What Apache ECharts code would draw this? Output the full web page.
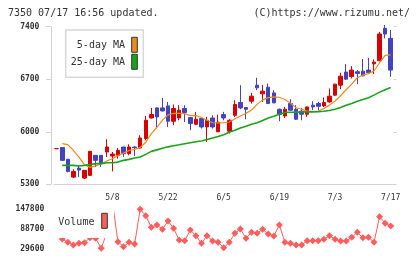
<!DOCTYPE html>
<html>
<head>
<meta charset="utf-8">
<title>7350</title>
<script src="https://cdn.jsdelivr.net/npm/echarts@6/dist/echarts.min.js"></script>
<style>
	html, body { margin: 0; padding: 0; background: #fff; }
	#chart { width: 420px; height: 259px; }
</style>
</head>
<body>
<div id="chart"></div>
<script>
// trading days 2025/04/21 - 07/17
var dates = ['4/21','4/22','4/23','4/24','4/25','4/28','4/30','5/1','5/2','5/7',
	'5/8','5/9','5/12','5/13','5/14','5/15','5/16','5/19','5/20','5/21',
	'5/22','5/23','5/26','5/27','5/28','5/29','5/30','6/2','6/3','6/4',
	'6/5','6/6','6/9','6/10','6/11','6/12','6/13','6/16','6/17','6/18',
	'6/19','6/20','6/23','6/24','6/25','6/26','6/27','6/30','7/1','7/2',
	'7/3','7/4','7/7','7/8','7/9','7/10','7/11','7/14','7/15','7/16','7/17'];

var opens = [5775,5789,5633,5396,5516,5383,5419,5686,5686,5730,
	5677,5686,5797,5708,5797,5784,5909,6184,6318,6318,
	6345,6140,6184,6310,6189,6100,6176,6064,6184,6000,
	6229,6007,6220,6390,6323,6407,6621,6505,6594,6518,
	6300,6211,6376,6300,6274,6234,6354,6376,6345,6398,
	6488,6621,6795,6736,6800,6808,6822,6905,6946,7378,7245];
var closes = [5775,5619,5472,5472,5489,5486,5739,5619,5575,5797,
	5703,5753,5708,5797,5789,5917,6153,6230,6198,6278,
	6140,6310,6287,6256,6109,6167,6064,6153,6064,6127,
	6184,6153,6363,6318,6300,6474,6585,6541,6376,6385,
	6229,6300,6287,6167,6234,6331,6331,6340,6390,6474,
	6634,6741,6701,6822,6777,6745,6790,6928,7303,7302,6822];
var lows = [5775,5610,5459,5383,5396,5370,5410,5530,5530,5663,
	5472,5642,5663,5686,5677,5775,5886,6176,6051,6270,
	6064,6087,6153,6131,6020,6087,6043,5864,6043,6000,
	6153,5976,6198,6300,6167,6376,6554,6398,6370,6380,
	6140,6184,6280,6160,6153,6198,6287,6287,6331,6385,
	6480,6568,6690,6710,6634,6740,6785,6768,6940,7245,6732];
var highs = [5775,5795,5640,5499,5552,5490,5745,5690,5690,5900,
	5730,5784,5800,5833,5806,5953,6211,6318,6325,6451,
	6398,6363,6354,6354,6198,6265,6198,6198,6220,6229,
	6265,6167,6420,6621,6331,6518,6719,6621,6643,6554,
	6309,6331,6434,6354,6318,6331,6407,6398,6457,6577,
	6640,6785,6902,6875,6822,6969,6986,6964,7330,7422,7356];

var ma5 = [null,5842,5829,5753,5663,5560,5525,5545,5570,5610,
	5640,5680,5715,5750,5765,5790,5860,5975,6057,6155,
	6225,6245,6245,6242,6215,6215,6190,6153,6120,6118,
	6120,6130,6170,6210,6245,6290,6365,6425,6455,6465,
	6460,6430,6380,6320,6300,6275,6270,6275,6310,6355,
	6410,6480,6560,6635,6720,6755,6775,6810,6920,7018,7025];
var ma25 = [null,5552,5552,5552,5543,5552,5562,5575,5575,5588,
	5588,5596,5619,5632,5650,5663,5699,5739,5759,5779,
	5799,5813,5826,5840,5853,5866,5877,5897,5917,5936,
	5960,5993,6020,6051,6073,6100,6120,6150,6184,6207,
	6234,6256,6260,6260,6263,6265,6265,6267,6274,6283,
	6300,6323,6354,6377,6407,6430,6454,6488,6528,6561,6591];

var volume = [null,59200,49400,41400,46400,48200,63000,61200,31700,77000,
	170000,51200,36400,49400,44400,147000,128000,93700,100500,87800,
	112300,90700,56200,54100,85700,68900,46400,68900,53200,49400,
	33400,49400,76000,88700,61200,78900,76000,87800,73900,68000,
	100500,49400,46400,41400,41400,54100,54100,54100,58300,68900,
	58300,53200,53200,64200,78900,63000,64200,49400,125000,105500,97600];

var priceTicks = { min: 5300, max: 7400, interval: 700 };
var volTicks = { min: 29600, max: 147800, interval: 59100 };

var mono = 'DejaVu Sans Mono';
var upColor = '#d60000';
var downColor = '#4343c2';
var ma5Color = '#f08a1a';
var ma25Color = '#18a418';
var volColor = '#ff5c5c';
var axisColor = '#d3d3d3';

// first trading day of each week gets a tick
function isWeekStart(index) {
	if (index === 0) return true;
	let p = dates[index - 1].split('/');
	let c = dates[index].split('/');
	let prev = new Date(2025, p[0] - 1, p[1]);
	let cur = new Date(2025, c[0] - 1, c[1]);
	return cur.getDay() <= prev.getDay() || (cur - prev) > 6 * 86400000;
}

function plainNumber(value) {
	return String(value);
}

function drawChart() {
	var chart = echarts.init(document.getElementById('chart'), null, { renderer: 'canvas' });

	var candles = dates.map(function(d, i) {
		return [opens[i], closes[i], lows[i], highs[i]];
	});

	var option = {
		animation: false,
		backgroundColor: '#fff',
		title: [
			{
				text: '7350 07/17 16:56 updated.',
				left: 8,
				top: 8,
				padding: 0,
				textStyle: { fontFamily: mono, fontSize: 10, fontWeight: 'normal', color: '#333' },
			},
			{
				text: '(C)https://www.rizumu.net/',
				right: 10,
				top: 8,
				padding: 0,
				textStyle: { fontFamily: mono, fontSize: 10, fontWeight: 'normal', color: '#333' },
			},
		],
		grid: [
			{ left: 53.9, right: 26.5, top: 26.7, height: 157.6 },
			{ left: 53.9, right: 26.5, top: 209, height: 40 },
		],
		xAxis: [
			{
				type: 'category',
				gridIndex: 0,
				data: dates,
				boundaryGap: true,
				axisLine: { lineStyle: { color: axisColor } },
				axisTick: {
					length: 5,
					lineStyle: { color: axisColor },
					interval: function(index) {
						return isWeekStart(index);
					},
				},
				axisLabel: {
					margin: 10,
					color: '#333',
					fontFamily: mono,
					fontSize: 8,
					interval: function(index) {
						return index > 0 && index % 10 === 0;
					},
				},
				splitLine: { show: false },
			},
			{
				type: 'category',
				gridIndex: 1,
				data: dates,
				boundaryGap: true,
				show: false,
			},
		],
		yAxis: [
			{
				type: 'value',
				gridIndex: 0,
				min: priceTicks.min,
				max: priceTicks.max,
				interval: priceTicks.interval,
				offset: 3,
				axisLine: { show: true, lineStyle: { color: axisColor } },
				axisTick: { show: true, length: 5, lineStyle: { color: axisColor } },
				axisLabel: { margin: 11.5, color: '#333', fontFamily: mono, fontSize: 8, fontWeight: 'bold', formatter: plainNumber },
				splitLine: { show: false },
			},
			{
				// short ticks on the inner side
				type: 'value',
				gridIndex: 0,
				min: priceTicks.min,
				max: priceTicks.max,
				interval: priceTicks.interval,
				offset: 3,
				axisLine: { show: false },
				axisTick: { show: true, inside: true, length: 3, lineStyle: { color: axisColor } },
				axisLabel: { show: false },
				splitLine: { show: false },
			},
			{
				type: 'value',
				gridIndex: 1,
				min: volTicks.min,
				max: volTicks.max,
				interval: volTicks.interval,
				axisLine: { show: false },
				axisTick: { show: false },
				axisLabel: { margin: 9.6, color: '#333', fontFamily: mono, fontSize: 8, fontWeight: 'bold', formatter: plainNumber },
				splitLine: { show: false },
			},
		],
		series: [
			{
				name: 'price',
				type: 'candlestick',
				xAxisIndex: 0,
				yAxisIndex: 0,
				data: candles,
				barWidth: 4,
				itemStyle: {
					color: upColor,
					color0: downColor,
					borderColor: upColor,
					borderColor0: downColor,
					borderWidth: 1,
				},
			},
			{
				name: '5-day MA',
				type: 'line',
				xAxisIndex: 0,
				yAxisIndex: 0,
				data: ma5,
				symbol: 'none',
				lineStyle: { color: ma5Color, width: 1.2 },
			},
			{
				name: '25-day MA',
				type: 'line',
				xAxisIndex: 0,
				yAxisIndex: 0,
				data: ma25,
				symbol: 'none',
				lineStyle: { color: ma25Color, width: 1.6 },
			},
			{
				name: 'Volume',
				type: 'line',
				xAxisIndex: 1,
				yAxisIndex: 2,
				data: volume,
				symbol: 'diamond',
				symbolSize: 7,
				showAllSymbol: true,
				itemStyle: { color: volColor },
				lineStyle: { color: volColor, width: 1 },
			},
		],
		graphic: [
			{
				type: 'rect',
				z: 100,
				shape: { x: 65.7, y: 30, width: 77.6, height: 47.3 },
				style: { fill: '#fff', stroke: '#d8d8d8', lineWidth: 1.5 },
			},
			{
				type: 'text',
				z: 101,
				x: 125,
				y: 45,
				style: { text: '5-day MA', fill: '#333', font: '10px ' + mono, textAlign: 'right', textVerticalAlign: 'middle' },
			},
			{
				type: 'text',
				z: 101,
				x: 125,
				y: 62.3,
				style: { text: '25-day MA', fill: '#333', font: '10px ' + mono, textAlign: 'right', textVerticalAlign: 'middle' },
			},
			{
				type: 'rect',
				z: 101,
				shape: { x: 131.7, y: 37.3, width: 5.6, height: 15 },
				style: { fill: ma5Color, stroke: '#333', lineWidth: 1 },
			},
			{
				type: 'rect',
				z: 101,
				shape: { x: 131.7, y: 54.3, width: 5.6, height: 15 },
				style: { fill: ma25Color, stroke: '#333', lineWidth: 1 },
			},
			{
				// volume legend area hides the line behind it
				type: 'rect',
				z: 100,
				shape: { x: 52, y: 200, width: 62, height: 38 },
				style: { fill: '#fff' },
			},
			{
				type: 'text',
				z: 101,
				x: 58.3,
				y: 222.3,
				style: { text: 'Volume', fill: '#333', font: '10px ' + mono, textAlign: 'left', textVerticalAlign: 'middle' },
			},
			{
				type: 'rect',
				z: 101,
				shape: { x: 101.7, y: 213.3, width: 5.6, height: 15 },
				style: { fill: volColor, stroke: '#333', lineWidth: 1 },
			},
		],
	};

	chart.setOption(option);
}

drawChart();
</script>
</body>
</html>
